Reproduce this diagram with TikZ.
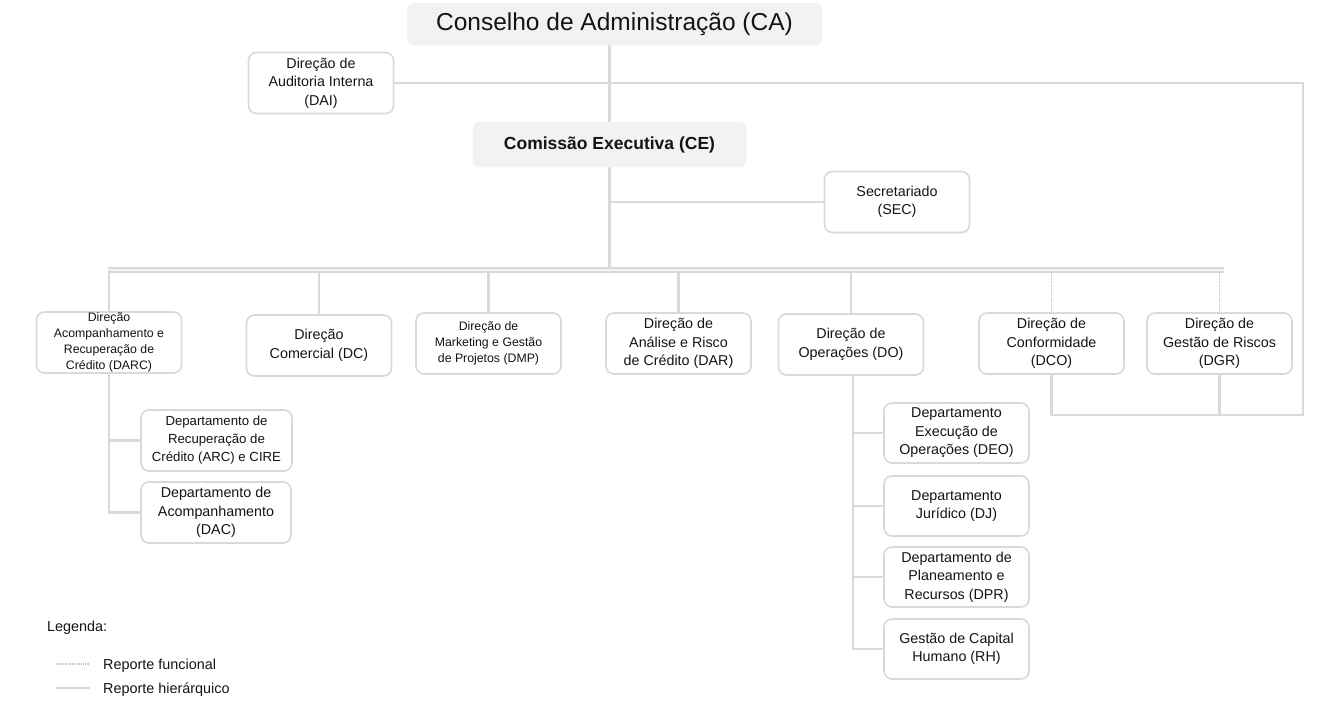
\documentclass[tikz,border=0pt]{standalone}
\usepackage{fontspec}
\setmainfont{Liberation Sans}
\usetikzlibrary{backgrounds}
\definecolor{linegray}{HTML}{D9D9D9}
\definecolor{dotgray}{HTML}{C4C4C4}
\definecolor{boxfill}{HTML}{F2F2F2}
\definecolor{txt}{HTML}{141414}
\tikzset{
  unit/.style={draw=linegray, line width=1.6pt, rounded corners=8pt, fill=white,
    align=center, minimum width=145pt, minimum height=61pt, inner sep=1pt,
    text=txt, font=\fontsize{14.3}{18.5}\selectfont},
  small/.style={font=\fontsize{12.3}{15.8}\selectfont},
  board/.style={fill=boxfill, rounded corners=6pt, align=center, text=txt},
  link/.style={draw=linegray, line width=2.6pt},
  funcional/.style={draw=dotgray, line width=1.6pt, dash pattern=on 1pt off 0.8pt},
  bus/.style={draw=linegray, line width=1.9pt, double=boxfill, double distance=1.8pt},
  legtext/.style={anchor=base west, inner sep=0pt, text=txt, font=\fontsize{14.4}{17}\selectfont}
}
\begin{document}
\begin{tikzpicture}[x=1pt,y=-1pt]
  \useasboundingbox (0,0) rectangle (1335,716);

  % top of the chart
  \node[board, minimum width=415pt, minimum height=42pt,
        font=\fontsize{24.5}{28}\selectfont] (CA) at (614.5,24) {Conselho de Administração (CA)};
  \node[unit] (DAI) at (321,83) {Direção de\\Auditoria Interna\\(DAI)};
  \node[board, minimum width=273pt, minimum height=45pt,
        font=\bfseries\fontsize{17.5}{21}\selectfont] (CE) at (609.5,144.5) {Comissão Executiva (CE)};
  \node[unit] (SEC) at (897,202) {Secretariado\\(SEC)};

  % directions
  \node[unit, small] (DARC) at (109,342.5) {Direção\\Acompanhamento e\\Recuperação de\\Crédito (DARC)};
  \node[unit] (DC) at (319,345.5) {Direção\\Comercial (DC)};
  \node[unit, small] (DMP) at (488.5,343.5) {Direção de\\Marketing e Gestão\\de Projetos (DMP)};
  \node[unit] (DAR) at (678.5,343.5) {Direção de\\Análise e Risco\\de Crédito (DAR)};
  \node[unit] (DO) at (851,344.5) {Direção de\\Operações (DO)};
  \node[unit] (DCO) at (1051.5,343.5) {Direção de\\Conformidade\\(DCO)};
  \node[unit] (DGR) at (1219.5,343.5) {Direção de\\Gestão de Riscos\\(DGR)};

  % departments
  \node[unit, minimum width=151pt, font=\fontsize{13.2}{18}\selectfont] (ARC) at (216.5,440.5) {Departamento de\\Recuperação de\\Crédito (ARC) e CIRE};
  \node[unit, minimum width=150pt] (DAC) at (216,512.5) {Departamento de\\Acompanhamento\\(DAC)};
  \node[unit, minimum height=60pt] (DEO) at (956.5,433) {Departamento\\Execução de\\Operações (DEO)};
  \node[unit, minimum height=60pt] (DJ) at (956.5,506) {Departamento\\Jurídico (DJ)};
  \node[unit, minimum height=60pt] (DPR) at (956.5,577) {Departamento de\\Planeamento e\\Recursos (DPR)};
  \node[unit, minimum height=60pt] (RH) at (956.5,649) {Gestão de Capital\\Humano (RH)};

  \coordinate (busY) at (0,270);
  \coordinate (rightX) at (1303,0);
  \coordinate (loopY) at (0,415);

  \begin{scope}[on background layer]
    \draw[link] (CE.center |- CA.south) -- (CE.center |- busY);
    \draw[link] (DAI.east) -- (DAI.east -| rightX) |- (loopY -| DCO.south) -- (DCO.south);
    \draw[link] (DGR.south) -- (DGR.south |- loopY);
    \draw[link] (SEC.west -| CE.center) -- (SEC.west);
    % drops from the bus
    \foreach \n in {DARC,DC,DMP,DAR,DO}{
      \draw[link] (\n.north) -- (\n.north |- busY);
    }
    \foreach \n in {DCO,DGR}{
      \draw[funcional] (\n.north) -- (\n.north |- busY);
    }
    \draw[bus] ([xshift=-1pt]DARC.north |- busY) -- ([xshift=4pt]DGR.north |- busY);
    % sub-departments
    \draw[link] (DARC.south) |- (DAC.west);
    \draw[link] (DARC.south |- ARC.west) -- (ARC.west);
    \draw[link] ([xshift=2pt]DO.south) |- (RH.west);
    \foreach \n in {DEO,DJ,DPR}{
      \draw[link] ([xshift=2pt]DO.south |- \n.west) -- (\n.west);
    }
  \end{scope}

  % legend
  \node[legtext] (legTitle) at (47,631) {Legenda:};
  \node[legtext] (legF) at (103,669) {Reporte funcional};
  \node[legtext] (legH) at (103,693) {Reporte hierárquico};
  \draw[funcional] ([xshift=-47pt,yshift=5pt]legF.base west) -- ([xshift=-13pt,yshift=5pt]legF.base west);
  \draw[link] ([xshift=-47pt,yshift=5pt]legH.base west) -- ([xshift=-13pt,yshift=5pt]legH.base west);
\end{tikzpicture}
\end{document}
